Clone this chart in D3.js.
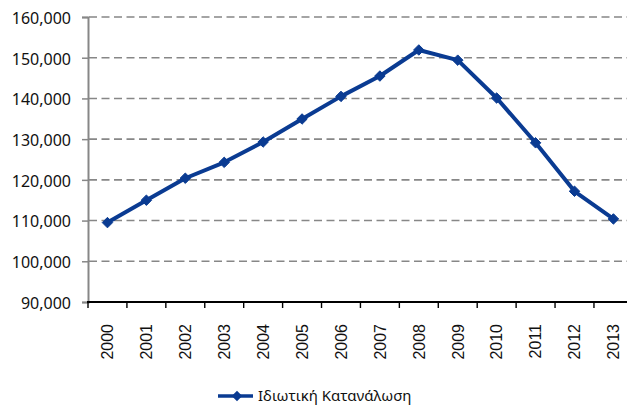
<html>
<head>
<meta http-equiv="Content-Type" content="text/html; charset=utf-8" />
<script src="https://cdn.jsdelivr.net/npm/d3@7"></script>
<style type="text/css">
	body{
		margin: 0;
		background: #fff;
	}
	svg text{
		fill: #111;
	}
</style>
</head>
<body>
<div id="chart"></div>

<script type="text/javascript">
	var years = ["2000","2001","2002","2003","2004","2005","2006","2007","2008","2009","2010","2011","2012","2013"];
	var consumption = [109500, 115000, 120400, 124300, 129300, 134950, 140500, 145500, 151900, 149400, 140100, 129100, 117200, 110400];
	var yTicks = [90000, 100000, 110000, 120000, 130000, 140000, 150000, 160000];
	var seriesName = "Ιδιωτική Κατανάλωση";

	var blue = "#0a3b92";

	var svg = d3.select("#chart")
		.append("svg")
		.attr("width", 627)
		.attr("height", 409);

	// the plot runs a little past the right edge of the picture
	var x = d3.scaleBand()
		.domain(years)
		.range([88, 88 + 14 * 38.92])
		.padding(0);

	var y = d3.scaleLinear()
		.domain([90000, 160000])
		.range([302, 17]);

	// dashed grid
	svg.append("g")
		.selectAll("line")
		.data(yTicks.slice(1))
		.enter()
		.append("line")
		.attr("x1", 89)
		.attr("x2", 627)
		.attr("y1", function(d){ return y(d); })
		.attr("y2", function(d){ return y(d); })
		.attr("stroke", "#878787")
		.attr("stroke-width", 1.6)
		.attr("stroke-dasharray", "8,4.5");

	// left axis
	var yAxis = svg.append("g")
		.attr("transform", "translate(88,0)")
		.call(d3.axisLeft(y)
			.tickValues(yTicks)
			.tickFormat(d3.format(","))
			.tickSize(6)
			.tickPadding(11));
	yAxis.select(".domain")
		.attr("stroke", "#878787")
		.attr("stroke-width", 2);
	yAxis.selectAll(".tick line")
		.attr("stroke", "#878787")
		.attr("stroke-width", 1.5);
	yAxis.selectAll(".tick text")
		.attr("font-family", "'Noto Sans', sans-serif")
		.attr("font-size", 16)
		.attr("fill", "#111")
		.attr("dy", "0.4em");

	// bottom axis, ticks between categories
	var bottom = svg.append("g");
	bottom.append("line")
		.attr("x1", 87)
		.attr("x2", x.range()[1])
		.attr("y1", y(90000))
		.attr("y2", y(90000))
		.attr("stroke", "#000")
		.attr("stroke-width", 2.2);

	var bounds = years.map(function(d){ return x(d); }).concat([x.range()[1]]);
	bottom.selectAll("line.tick")
		.data(bounds)
		.enter()
		.append("line")
		.attr("class", "tick")
		.attr("x1", function(d){ return d; })
		.attr("x2", function(d){ return d; })
		.attr("y1", y(90000))
		.attr("y2", y(90000) + 6)
		.attr("stroke", "#000")
		.attr("stroke-width", 1.4);

	bottom.selectAll("text")
		.data(years)
		.enter()
		.append("text")
		.text(function(d){ return d; })
		.attr("transform", function(d){
			return "translate(" + (x(d) + x.bandwidth() / 2) + ",324) rotate(-90)";
		})
		.attr("text-anchor", "end")
		.attr("dy", "0.36em")
		.attr("font-family", "'Liberation Sans', Arial, sans-serif")
		.attr("font-size", 16);

	// series
	var cx = function(d, i){ return x(years[i]) + x.bandwidth() / 2; };

	var line = d3.line()
		.x(cx)
		.y(function(d){ return y(d); });

	svg.append("path")
		.datum(consumption)
		.attr("d", line)
		.attr("fill", "none")
		.attr("stroke", blue)
		.attr("stroke-width", 4)
		.attr("stroke-linejoin", "round");

	var diamond = d3.symbol().type(d3.symbolDiamond2).size(70);

	svg.append("g")
		.selectAll("path")
		.data(consumption)
		.enter()
		.append("path")
		.attr("d", diamond)
		.attr("transform", function(d, i){
			return "translate(" + cx(d, i) + "," + y(d) + ")";
		})
		.attr("fill", blue)
		.attr("stroke", blue)
		.attr("stroke-width", 1);

	// legend
	var legend = svg.append("g").attr("transform", "translate(218,396)");
	legend.append("line")
		.attr("x1", 0)
		.attr("x2", 35)
		.attr("stroke", blue)
		.attr("stroke-width", 3.5);
	legend.append("path")
		.attr("d", diamond)
		.attr("transform", "translate(19,0)")
		.attr("fill", blue);
	legend.append("text")
		.text(seriesName)
		.attr("x", 40)
		.attr("dy", "0.36em")
		.attr("font-family", "'Noto Sans', sans-serif")
		.attr("font-size", 15);
</script>
</body>
</html>
